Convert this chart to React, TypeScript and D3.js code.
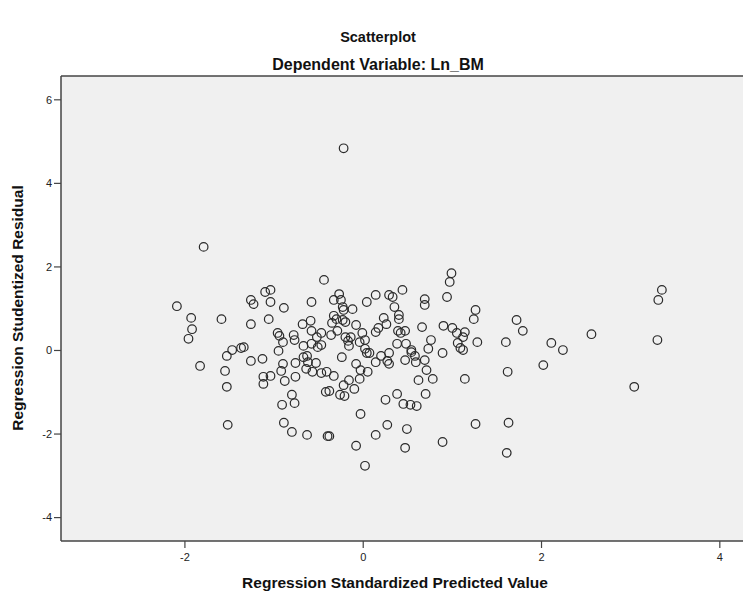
import React from "react";
import * as d3 from "d3";

const width = 743;
const height = 595;

// regression standardized predicted value (x) and studentized residual (y)
const predicted = [
  -1.79, -2.09, -1.93, -1.92, -1.96, -1.83, -1.59, -1.47, -1.53, -1.55,
  -1.53, -1.52, -1.37, -1.34, -1.26, -1.23, -1.26, -1.26, -1.13, -1.1,
  -1.04, -1.04, -1.06, -0.89, -1.12, -1.12, -1.04, -0.92, -0.9, -0.88,
  -0.95, -0.96, -0.94, -0.9, -0.78, -0.77, -0.76, -0.76, -0.8, -0.77,
  -0.91, -0.89, -0.8, -0.63, -0.38, -0.4, -0.68, -0.67, -0.58, -0.59,
  -0.58, -0.52, -0.58, -0.51, -0.47, -0.47, -0.67, -0.63, -0.62, -0.53,
  -0.64, -0.57, -0.47, -0.41, -0.33, -0.42, -0.38, -0.26, -0.21, -0.22,
  -0.16, -0.1, -0.04, -0.03, 0.05, -0.08, -0.24, -0.03, -0.08, 0.02,
  0.14, 0.27, 0.25, 0.38, 0.14, 0.2, 0.29, 0.29, -0.44, -0.33,
  -0.27, -0.25, -0.23, -0.22, -0.12, 0.04, 0.14, 0.29, 0.33, 0.35,
  0.23, 0.26, 0.17, 0.14, -0.08, -0.01, 0.02, -0.04, 0.02, 0.04,
  -0.36, -0.29, -0.2, -0.17, -0.16, -0.14, -0.35, -0.33, -0.3, -0.23,
  -0.2, 0.44, 0.4, 0.4, 0.39, 0.42, 0.47, 0.38, 0.48, 0.47,
  0.54, 0.54, 0.58, 0.59, 0.69, 0.73, 0.76, 0.66, 0.69, 0.69,
  0.94, 0.97, 0.99, 0.9, 1.0, 1.05, 1.14, 1.12, 1.06, 1.09,
  1.12, 0.89, 1.26, 1.24, 1.28, 1.6, 1.72, 1.79, 2.11, 2.24,
  2.02, 2.56, 3.35, 3.31, 3.3, 3.04, 1.62, 1.63, 1.61, 1.26,
  1.14, 0.89, 0.78, 0.71, 0.62, 0.7, 0.45, 0.53, 0.6, 0.49,
  0.47, -0.22, 0.07, 0.27
];

const residual = [
  2.48, 1.06, 0.78, 0.51, 0.28, -0.37, 0.75, 0.01, -0.13, -0.49,
  -0.87, -1.78, 0.06, 0.08, 1.21, 1.11, 0.63, -0.25, -0.2, 1.4,
  1.45, 1.16, 0.75, 1.02, -0.63, -0.8, -0.61, -0.49, -0.32, -0.73,
  -0.01, 0.42, 0.35, 0.2, 0.37, 0.25, -0.3, -0.63, -1.06, -1.26,
  -1.3, -1.73, -1.95, -2.02, -2.05, -2.05, 0.63, 0.11, 1.16, 0.71,
  0.47, 0.32, 0.16, 0.08, 0.13, 0.42, -0.16, -0.13, -0.28, -0.3,
  -0.44, -0.51, -0.54, -0.51, -0.61, -0.99, -0.97, -1.06, -1.09, -0.83,
  -0.71, -0.92, -0.68, -0.47, -0.51, -0.32, -0.16, -1.52, -2.28, -2.76,
  -2.02, -1.78, -1.18, -1.04, -0.28, -0.13, -0.06, -0.32, 1.69, 1.21,
  1.35, 1.21, 1.04, 0.97, 0.99, 1.16, 1.33, 1.33, 1.28, 1.04,
  0.78, 0.63, 0.54, 0.44, 0.61, 0.42, 0.25, 0.2, 0.04, -0.06,
  0.37, 0.47, 0.32, 0.23, 0.11, 0.32, 0.66, 0.83, 0.75, 0.73,
  0.68, 1.45, 0.85, 0.75, 0.47, 0.42, 0.47, 0.16, 0.16, -0.23,
  0.01, -0.04, -0.13, -0.28, -0.23, 0.04, 0.25, 0.56, 1.23, 1.09,
  1.28, 1.64, 1.85, 0.59, 0.54, 0.42, 0.44, 0.32, 0.18, 0.06,
  0.01, -0.06, 0.97, 0.75, 0.2, 0.2, 0.73, 0.47, 0.18, 0.01,
  -0.35, 0.39, 1.45, 1.21, 0.25, -0.87, -0.51, -1.73, -2.45, -1.76,
  -0.68, -2.19, -0.68, -0.47, -0.71, -1.04, -1.28, -1.3, -1.33, -1.88,
  -2.33, 4.84, -0.06, -0.25
];

const xTicks = [-2, 0, 2, 4];
const yTicks = [6, 4, 2, 0, -2, -4];

const margin = { left: 61, top: 76, right: 0, bottom: 54 };
const font = "'Liberation Sans', Arial, sans-serif";

export default function App() {
  const x = d3
    .scaleLinear()
    .domain([-3.39, 4.26])
    .range([margin.left, width - margin.right]);
  const y = d3
    .scaleLinear()
    .domain([-4.56, 6.57])
    .range([height - margin.bottom, margin.top]);

  const x0 = margin.left;
  const y0 = height - margin.bottom;

  return (
    <svg
      width={width}
      height={height}
      style={{ position: "absolute", left: 0, top: 0, background: "#fff" }}
    >
      <text
        x={378}
        y={42}
        textAnchor="middle"
        fontFamily={font}
        fontWeight="bold"
        fontSize={14.5}
        fill="#111"
      >
        Scatterplot
      </text>
      <text
        x={378}
        y={70}
        textAnchor="middle"
        fontFamily={font}
        fontWeight="bold"
        fontSize={16}
        fill="#111"
      >
        Dependent Variable: Ln_BM
      </text>

      <rect
        x={x0}
        y={margin.top}
        width={width - x0 + 2}
        height={y0 - margin.top}
        fill="#f0f0f0"
      />
      <line x1={x0} x2={width} y1={margin.top} y2={margin.top} stroke="#444" strokeWidth={1.5} />
      <line x1={x0} x2={x0} y1={margin.top} y2={y0} stroke="#444" strokeWidth={1.5} />
      <line x1={x0} x2={width} y1={y0} y2={y0} stroke="#444" strokeWidth={1.5} />

      {yTicks.map((t) => (
        <g key={"y" + t}>
          <line x1={x0 - 7} x2={x0} y1={y(t)} y2={y(t)} stroke="#444" strokeWidth={1.2} />
          <text
            x={x0 - 9}
            y={y(t)}
            dy="0.35em"
            textAnchor="end"
            fontFamily={font}
            fontSize={11}
            fill="#222"
          >
            {t}
          </text>
        </g>
      ))}

      {xTicks.map((t) => (
        <g key={"x" + t}>
          <line x1={x(t)} x2={x(t)} y1={y0} y2={y0 + 7} stroke="#444" strokeWidth={1.2} />
          <text
            x={x(t)}
            y={y0 + 20}
            textAnchor="middle"
            fontFamily={font}
            fontSize={11}
            fill="#222"
          >
            {t}
          </text>
        </g>
      ))}

      <text
        x={395}
        y={588}
        textAnchor="middle"
        fontFamily={font}
        fontWeight="bold"
        fontSize={15.5}
        fill="#111"
      >
        Regression Standardized Predicted Value
      </text>
      <text
        transform={`translate(23, 308) rotate(-90)`}
        textAnchor="middle"
        fontFamily={font}
        fontWeight="bold"
        fontSize={15.5}
        fill="#111"
      >
        Regression Studentized Residual
      </text>

      <g fill="none" stroke="#2a2a2a" strokeWidth={1.2}>
        {predicted.map((d, i) => (
          <circle key={i} cx={x(d)} cy={y(residual[i])} r={4.3} />
        ))}
      </g>
    </svg>
  );
}
